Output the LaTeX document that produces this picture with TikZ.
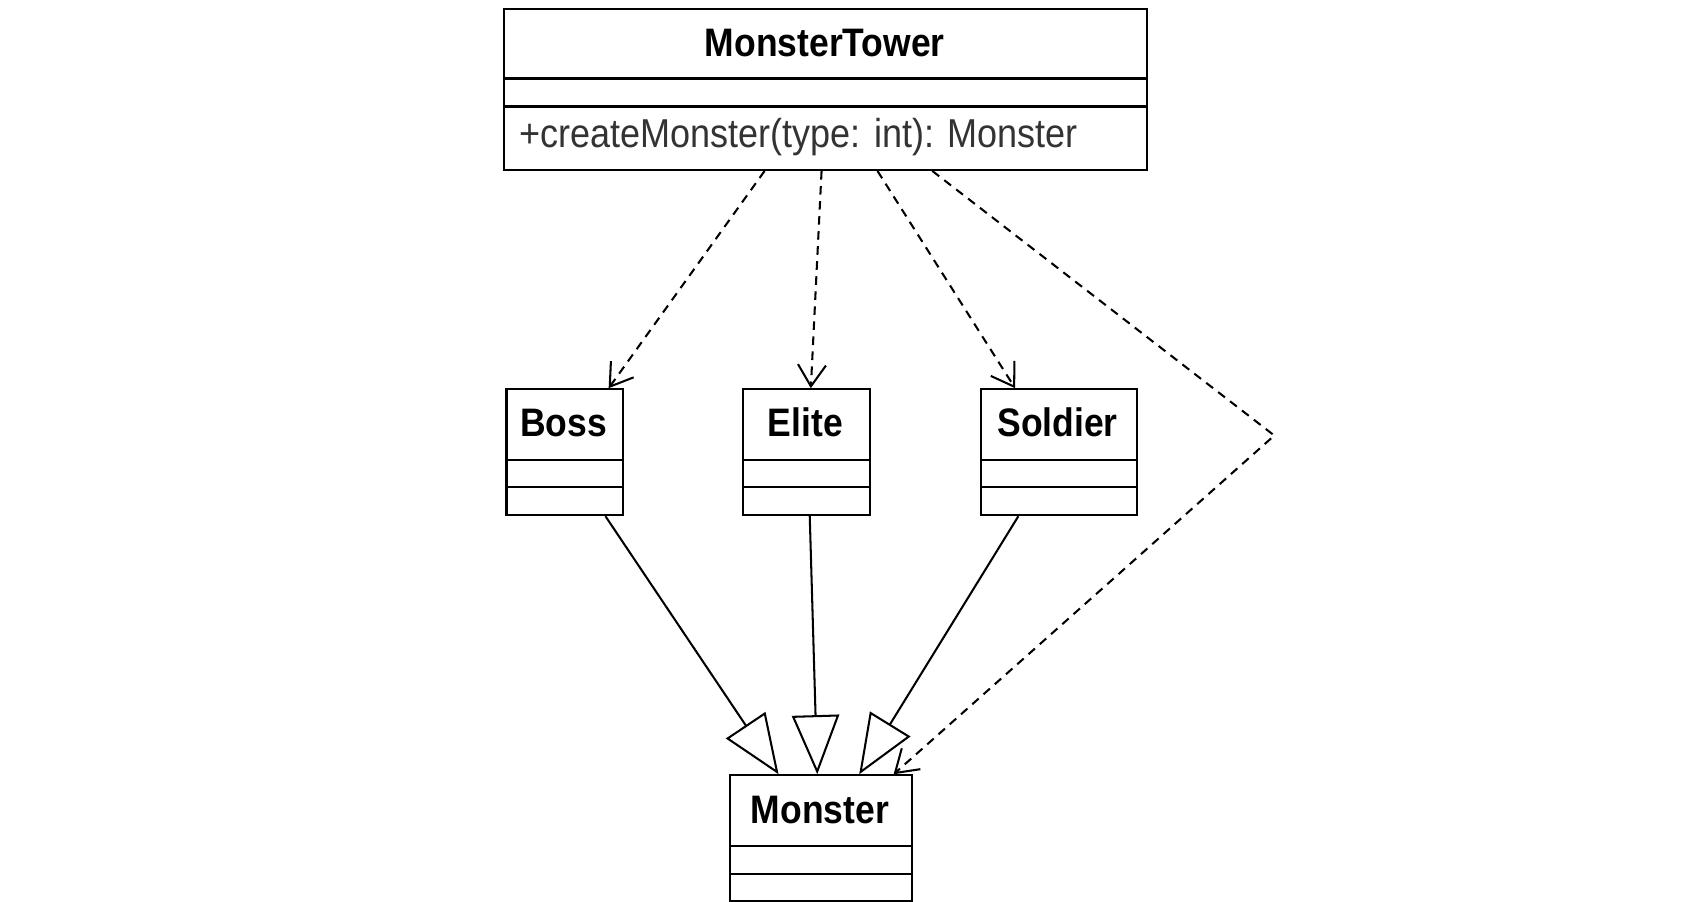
\documentclass[tikz,border=0pt]{standalone}
\usepackage{fontspec}
\setmainfont{Liberation Sans}
\usetikzlibrary{arrows.meta}
\begin{document}
\begin{tikzpicture}[x=1pt,y=-1pt,
  box/.style={draw, line width=2pt, inner sep=0pt, anchor=north west},
  sep/.style={line width=2pt},
  title/.style={font=\fontsize{33}{40}\selectfont\bfseries, inner sep=0pt},
  member/.style={font=\fontsize{33.5}{40}\selectfont, text=black!80, inner sep=0pt, anchor=west},
  dep/.style={line width=1.9pt, dash pattern=on 8pt off 6pt,
    -{Straight Barb[length=20pt,width=26pt,line width=1.9pt]}},
  gen/.style={line width=1.9pt, -{Triangle[open,length=55pt,width=44pt,fill=white,line width=1.9pt]}}]
\useasboundingbox (0,0) rectangle (1566,838);
% MonsterTower
\node[box, minimum width=598pt, minimum height=150pt] (mt) at (468,7) {};
\draw[sep] (468,73) -- (1066,73);
\draw[sep] (468,99) -- (1066,99);
\node[title] (mtt) at (767,40) {\scalebox{1}[1.12]{MonsterTower}};
\node[member] (mtm) at (483,127) {\scalebox{1}[1.12]{+createMonster(type: int): Monster}};
% Boss
\node[box, minimum width=108pt, minimum height=117pt] (boss) at (470,361) {};
\draw[sep] (470,428) -- (578,428);
\draw[sep] (470,453) -- (578,453);
\node[title] (bosst) at (524,393) {\scalebox{1}[1.12]{Boss}};
% Elite
\node[box, minimum width=118pt, minimum height=117pt] (elite) at (690,361) {};
\draw[sep] (690,428) -- (808,428);
\draw[sep] (690,453) -- (808,453);
\node[title] (elitet) at (749,393) {\scalebox{1}[1.12]{Elite}};
% Soldier
\node[box, minimum width=145pt, minimum height=117pt] (soldier) at (911,361) {};
\draw[sep] (911,428) -- (1056,428);
\draw[sep] (911,453) -- (1056,453);
\node[title] (soldiert) at (983.5,393) {\scalebox{1}[1.12]{Soldier}};
% Monster
\node[box, minimum width=169pt, minimum height=117pt] (monster) at (678,720) {};
\draw[sep] (678,787) -- (847,787);
\draw[sep] (678,813) -- (847,813);
\node[title] (monstert) at (762.5,753) {\scalebox{1}[1.12]{Monster}};
% dependencies
\draw[dep] ([xshift=-57pt]mt.south) -- ([xshift=41pt]boss.north);
\draw[dep] ([xshift=-4pt]mt.south) -- ([xshift=4pt]elite.north);
\draw[dep] ([xshift=48pt]mt.south) -- ([xshift=-40.5pt]soldier.north);
\coordinate (bend) at (1185,405);
\draw[dep] ([xshift=99pt]mt.south) -- (bend) -- ([xshift=67.5pt]monster.north);
% generalizations
\draw[gen] ([xshift=38pt]boss.south) -- ([xshift=-39.5pt]monster.north);
\draw[gen] ([xshift=3pt]elite.south) -- ([xshift=-3.5pt]monster.north);
\draw[gen] ([xshift=-37.5pt]soldier.south) -- ([xshift=35.5pt]monster.north);
\end{tikzpicture}
\end{document}
